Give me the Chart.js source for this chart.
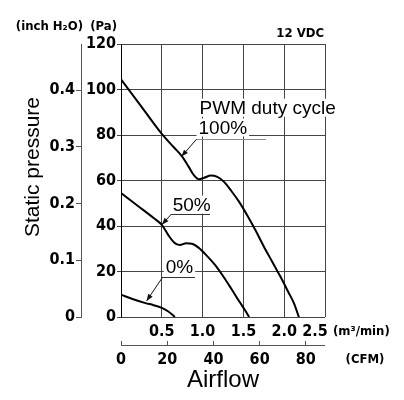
<!DOCTYPE html>
<html>
<head>
<meta charset="utf-8">
<script src="https://cdn.jsdelivr.net/npm/chart.js@4/dist/chart.umd.min.js"></script>
<style>
  html, body { margin: 0; padding: 0; background: #fff; }
  #wrap { width: 404px; height: 400px; }
</style>
</head>
<body>
<div id="wrap"><canvas id="pqChart" width="404" height="400"></canvas></div>
<script>
// --- DATA (airflow in m3/min, static pressure in Pa) ---
const FLOW_100 = [0, 0.25, 0.5, 0.65, 0.75, 0.83, 0.9, 0.95, 1.02, 1.1, 1.18, 1.26, 1.35, 1.45, 1.55, 1.65, 1.75, 1.85, 1.95, 2.05, 2.12, 2.18];
const PRESS_100 = [104.5, 92.5, 80.5, 74.5, 70.5, 66, 62, 60.6, 61.2, 62.2, 61.6, 59.5, 55.5, 50.5, 44.5, 38, 31, 24.5, 18, 11, 6, 0];

const FLOW_50 = [0, 0.2, 0.4, 0.5, 0.58, 0.65, 0.72, 0.8, 0.87, 0.95, 1.05, 1.15, 1.25, 1.35, 1.45, 1.52, 1.57];
const PRESS_50 = [54.5, 49, 43.5, 40.5, 36, 32.8, 31.6, 32.4, 32.2, 30.5, 27, 23, 18, 12.5, 6.8, 3, 0];

const FLOW_0 = [0, 0.15, 0.3, 0.4, 0.5, 0.58, 0.66];
const PRESS_0 = [9.8, 7.8, 6.1, 5.2, 4.0, 2.4, 0];

const DUTY_LABELS = ['100%', '50%', '0%'];

const PA_TICKS = [0, 20, 40, 60, 80, 100, 120];
const FLOW_TICKS = [0, 0.5, 1.0, 1.5, 2.0, 2.5];
const CFM_TICKS = [0, 20, 40, 60, 80];
const INH2O_TICKS = [0, 0.1, 0.2, 0.3, 0.4];

const PA_PER_INH2O = 249.089;
const CFM_PER_M3MIN = 35.3147;

// leader lines for the duty cycle labels, in data units (flow, Pa)
const leaders = [
    { text: DUTY_LABELS[0], head: [0.74, 70.5], knee: [0.927, 78.2], end: [1.78, 78.2], label: [0.95, 83.3] },
    { text: DUTY_LABELS[1], head: [0.5, 40.6], knee: [0.617, 45.2], end: [1.085, 45.2], label: [0.634, 49.4] },
    { text: DUTY_LABELS[2], head: [0.313, 7.0], knee: [0.512, 17.6], end: [0.902, 17.6], label: [0.549, 22.2] }
];

const NARROW = "'Liberation Sans Narrow', 'DejaVu Sans Condensed', 'Liberation Sans', sans-serif";
const SANS = "'Liberation Sans', Arial, sans-serif";

function toPoints(xs, ys) {
    return xs.map((x, i) => ({ x: x, y: ys[i] }));
}

function setTicks(values) {
    return scale => { scale.ticks = values.map(v => ({ value: v })); };
}

function arrowHead(ctx, from, to) {
    const ang = Math.atan2(to.y - from.y, to.x - from.x);
    const len = 7, half = 2.6;
    ctx.beginPath();
    ctx.moveTo(to.x, to.y);
    ctx.lineTo(to.x - len * Math.cos(ang) + half * Math.sin(ang), to.y - len * Math.sin(ang) - half * Math.cos(ang));
    ctx.lineTo(to.x - len * Math.cos(ang) - half * Math.sin(ang), to.y - len * Math.sin(ang) + half * Math.cos(ang));
    ctx.closePath();
    ctx.fill();
}

// extra texts, label boxes and leader arrows
const extrasPlugin = {
    id: 'extras',
    afterDatasetsDraw(chart) {
        const ctx = chart.ctx;
        const xs = chart.scales.x, ys = chart.scales.y, y2 = chart.scales.y2, x2 = chart.scales.x2;
        const px = p => ({ x: xs.getPixelForValue(p[0]), y: ys.getPixelForValue(p[1]) });
        ctx.save();

        // white boxes behind annotation text
        ctx.font = '19px ' + SANS;
        ctx.textBaseline = 'middle';
        ctx.textAlign = 'left';
        const title = { text: 'PWM duty cycle', label: [0.963, 92.0] };
        const boxes = [title].concat(leaders);
        boxes.forEach(b => {
            const p = px(b.label);
            const w = ctx.measureText(b.text).width;
            ctx.fillStyle = '#fff';
            ctx.fillRect(p.x - 2, p.y - 9, w + 4, 18);
        });
        ctx.fillStyle = '#000';
        boxes.forEach(b => {
            const p = px(b.label);
            ctx.fillText(b.text, p.x, p.y + 1);
        });

        // leader lines with arrowheads
        ctx.lineWidth = 1;
        leaders.forEach((l, i) => {
            const h = px(l.head), k = px(l.knee), e = px(l.end);
            ctx.strokeStyle = i === 0 ? '#8a8a8a' : '#333';
            ctx.beginPath();
            ctx.moveTo(Math.round(k.x), Math.round(k.y) + 0.5);
            ctx.lineTo(Math.round(e.x), Math.round(e.y) + 0.5);
            ctx.stroke();
            ctx.strokeStyle = '#111';
            ctx.beginPath();
            ctx.moveTo(k.x, k.y);
            ctx.lineTo(h.x, h.y);
            ctx.stroke();
            ctx.fillStyle = '#111';
            arrowHead(ctx, k, h);
        });

        // CFM axis line (ticks rise from it)
        const cfmY = Math.round(x2.top + x2.options.grid.tickLength) + 0.5;
        ctx.strokeStyle = '#555';
        ctx.beginPath();
        ctx.moveTo(x2.left, cfmY);
        ctx.lineTo(x2.right, cfmY);
        ctx.stroke();

        // unit labels
        ctx.fillStyle = '#000';
        ctx.font = 'bold 13px ' + NARROW;
        ctx.textAlign = 'right';
        ctx.fillText('(inch H\u2082O)', y2.right + 2, 27);
        ctx.fillText('(Pa)', ys.right - 4, 27);
        ctx.fillText('12 VDC', chart.chartArea.right - 1, 34);
        ctx.textAlign = 'left';
        ctx.fillText('(m\u00b3/min)', xs.right + 8, xs.top + 15);
        ctx.textAlign = 'center';
        ctx.fillText('(CFM)', x2.right + 40, x2.top + 19);

        // vertical axis title
        ctx.font = '21px ' + SANS;
        ctx.translate(33, 167);
        ctx.rotate(-Math.PI / 2);
        ctx.textAlign = 'center';
        ctx.fillText('Static pressure', 0, 0);
        ctx.restore();
    }
};

const tickFont = { family: NARROW, size: 16, weight: 'bold' };
const gridColor = '#444';

Chart.defaults.color = '#000';

new Chart(document.getElementById('pqChart'), {
    type: 'line',
    data: {
        datasets: [
            { label: DUTY_LABELS[0], data: toPoints(FLOW_100, PRESS_100) },
            { label: DUTY_LABELS[1], data: toPoints(FLOW_50, PRESS_50) },
            { label: DUTY_LABELS[2], data: toPoints(FLOW_0, PRESS_0) }
        ].map(ds => Object.assign(ds, {
            borderColor: '#000',
            borderWidth: 2,
            pointRadius: 0,
            fill: false,
            cubicInterpolationMode: 'monotone'
        }))
    },
    options: {
        responsive: false,
        animation: false,
        layout: { padding: { top: 44, right: 79, bottom: 5, left: 0 } },
        plugins: { legend: { display: false }, tooltip: { enabled: false } },
        scales: {
            x: {
                type: 'linear', position: 'bottom', weight: 0,
                min: 0, max: 2.5,
                afterBuildTicks: setTicks(FLOW_TICKS),
                afterFit: s => { s.height = 24; },
                grid: { color: gridColor, lineWidth: 1, drawTicks: false },
                border: { display: false },
                ticks: {
                    font: tickFont, padding: 5, autoSkip: false, maxRotation: 0,
                    callback: v => v === 0 ? '' : (v === 2.5 ? '2.5    ' : v.toFixed(1))
                }
            },
            x2: {
                type: 'linear', position: 'bottom', weight: 1,
                min: 0, max: 2.5 * CFM_PER_M3MIN,
                afterBuildTicks: setTicks(CFM_TICKS),
                afterFit: s => { s.height = 54; },
                grid: { drawOnChartArea: false, color: '#555', tickLength: 4 },
                border: { display: false },
                ticks: { font: tickFont, padding: 5, autoSkip: false, maxRotation: 0 },
                title: {
                    display: true, text: 'Airflow', color: '#000',
                    font: { family: SANS, size: 24 }, padding: 0
                }
            },
            y: {
                type: 'linear', position: 'left', weight: 0,
                min: 0, max: 120,
                afterBuildTicks: setTicks(PA_TICKS),
                afterFit: s => { s.width = 40; },
                grid: { color: gridColor, lineWidth: 1, tickLength: 4 },
                border: { display: true, color: '#000', width: 1 },
                ticks: { font: tickFont, padding: 1 }
            },
            y2: {
                type: 'linear', position: 'left', weight: 1,
                min: 0, max: 120 / PA_PER_INH2O,
                afterBuildTicks: setTicks(INH2O_TICKS),
                afterFit: s => { s.width = 81; },
                grid: { drawOnChartArea: false, color: '#555', tickLength: 5 },
                border: { display: true, color: '#555', width: 1 },
                ticks: { font: tickFont, padding: 1, callback: v => String(v) }
            }
        }
    },
    plugins: [extrasPlugin]
});
</script>
</body>
</html>
